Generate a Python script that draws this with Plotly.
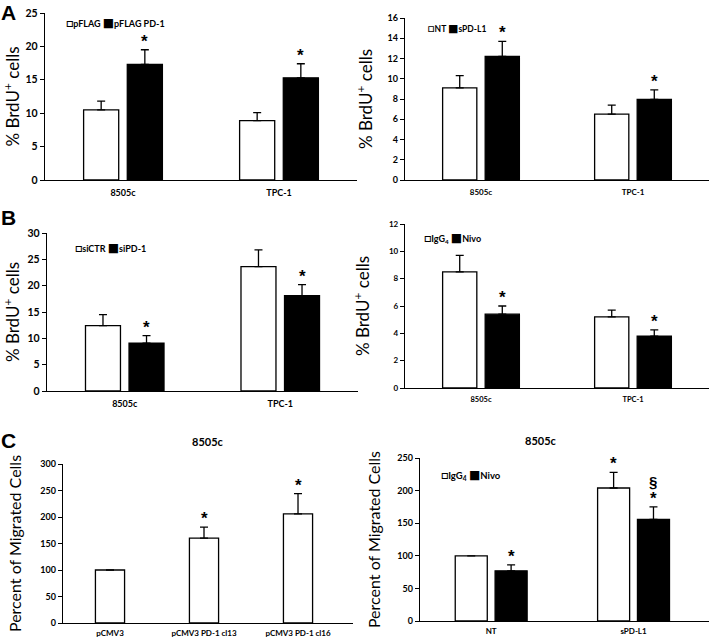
import plotly.graph_objects as go

# ---------------- data ----------------
A_cats = ["8505c", "TPC-1"]
A1_names = ["pFLAG", "pFLAG PD-1"]
A1_pflag = [10.5, 8.9]
A1_pflag_err = [1.3, 1.2]
A1_pd1 = [17.3, 15.3]
A1_pd1_err = [2.2, 2.1]
A1_pflag_sig = ["", ""]
A1_pd1_sig = ["*", "*"]

A2_names = ["NT", "sPD-L1"]
A2_nt = [9.1, 6.5]
A2_nt_err = [1.2, 0.9]
A2_spdl1 = [12.2, 7.95]
A2_spdl1_err = [1.5, 0.95]
A2_nt_sig = ["", ""]
A2_spdl1_sig = ["*", "*"]

B1_names = ["siCTR", "siPD-1"]
B1_sictr = [12.4, 23.6]
B1_sictr_err = [2.1, 3.2]
B1_sipd1 = [9.1, 18.1]
B1_sipd1_err = [1.4, 2.1]
B1_sictr_sig = ["", ""]
B1_sipd1_sig = ["*", "*"]

B2_names = ["IgG<sub>4</sub>", "Nivo"]
B2_igg4 = [8.5, 5.2]
B2_igg4_err = [1.2, 0.5]
B2_nivo = [5.4, 3.8]
B2_nivo_err = [0.6, 0.45]
B2_igg4_sig = ["", ""]
B2_nivo_sig = ["*", "*"]

C1_cats = ["pCMV3", "pCMV3 PD-1 cl13", "pCMV3 PD-1 cl16"]
C1_vals = [100, 160, 206]
C1_err = [0, 21, 38]
C1_sig = ["", "*", "*"]

C2_cats = ["NT", "sPD-L1"]
C2_names = ["IgG<sub>4</sub>", "Nivo"]
C2_igg4 = [100, 204]
C2_igg4_err = [0, 24]
C2_nivo = [77, 156]
C2_nivo_err = [9, 19]
C2_igg4_sig = ["", "*"]
C2_nivo_sig = ["*", "*"]
C2_nivo_sig2 = ["", "§"]

BRDU = "% BrdU<sup>+</sup> cells"
MIGR = "Percent of Migrated Cells"
FONT = "Lato"
STARFONT = "Liberation Sans"

W, H = 709, 640
fig = go.Figure()
annotations = []


def px_dom_x(a, b):
    return [a / W, b / W]


def px_dom_y(top, bottom):
    return [1 - bottom / H, 1 - top / H]


OFF = 0.14
BW = 0.225


def add_series(k, vals, errs, sigs, off, bw, color, name, extra_sig=None):
    xs = [i + off for i in range(len(vals))]
    fig.add_trace(go.Bar(
        x=xs, y=vals, width=bw, name=name,
        marker=dict(color=color, line=dict(color="black", width=1.3)),
        error_y=dict(type="data", symmetric=False, array=errs,
                     arrayminus=[0] * len(vals), color="black",
                     thickness=1.3, width=4),
        xaxis=f"x{k}", yaxis=f"y{k}", showlegend=False,
    ))
    xr = f"x{k}" if k > 1 else "x"
    yr = f"y{k}" if k > 1 else "y"
    for x, v, e, s in zip(xs, vals, errs, sigs):
        if s:
            annotations.append(dict(x=x, y=v + e, xref=xr, yref=yr, text=s,
                                    showarrow=False, yanchor="bottom", yshift=-3,
                                    font=dict(family=STARFONT, size=17, color="black", weight="bold")))
    if extra_sig:
        for x, v, e, s in zip(xs, vals, errs, extra_sig):
            if s:
                annotations.append(dict(x=x, y=v + e, xref=xr, yref=yr, text=s,
                                        showarrow=False, yanchor="bottom", yshift=15,
                                        font=dict(family=STARFONT, size=15, color="black", weight="bold")))


def style_axes(k, cats, xdom, ydom, xrange_, yrange, dtick, ytitle, tick_fs, cat_fs,
               title_fs, standoff, cat_standoff=4):
    sfx = str(k) if k > 1 else ""
    fig.layout[f"xaxis{sfx}"] = dict(
        domain=xdom, range=xrange_, tickvals=list(range(len(cats))), ticktext=cats,
        showline=True, linecolor="black", linewidth=1.4, ticks="", showgrid=False,
        zeroline=False, anchor=f"y{sfx}", ticklabelstandoff=cat_standoff, automargin=False,
        tickfont=dict(family=FONT, size=cat_fs, color="black", weight="bold"),
    )
    fig.layout[f"yaxis{sfx}"] = dict(
        domain=ydom, range=yrange, dtick=dtick, showline=True, linecolor="black",
        linewidth=1.4, ticks="outside", ticklen=4, tickwidth=1.2, tickcolor="black",
        showgrid=False, zeroline=False, anchor=f"x{sfx}", automargin=False,
        tickfont=dict(family=FONT, size=tick_fs, color="black", weight="bold"),
        title=dict(text=ytitle, standoff=standoff,
                   font=dict(family=FONT, size=title_fs, color="black")),
    )


def legend_text(k, names, xpx, ypx, fs, sq):
    box_w = f'<span style="font-size:{sq}px">□</span>'
    box_b = f'<span style="font-size:{sq}px">■</span>'
    annotations.append(dict(
        x=xpx / W, y=1 - ypx / H, xref="paper", yref="paper",
        text=f"{box_w}{names[0]} {box_b}{names[1]}", showarrow=False,
        xanchor="left", yanchor="middle",
        font=dict(family=f"{FONT}, DejaVu Sans", size=fs, color="black", weight="bold")))


# Panel A left
add_series(1, A1_pflag, A1_pflag_err, A1_pflag_sig, -OFF, BW, "white", A1_names[0])
add_series(1, A1_pd1, A1_pd1_err, A1_pd1_sig, OFF, BW, "black", A1_names[1])
style_axes(1, A_cats, px_dom_x(45, 357), px_dom_y(13, 180), [-0.5, 1.5], [0, 25], 5,
           BRDU, 10.5, 9, 17, 12)
legend_text(1, A1_names, 64, 23, 9, 12)

# Panel A right
add_series(2, A2_nt, A2_nt_err, A2_nt_sig, -OFF, BW, "white", A2_names[0])
add_series(2, A2_spdl1, A2_spdl1_err, A2_spdl1_sig, OFF, BW, "black", A2_names[1])
style_axes(2, A_cats, px_dom_x(405, 709), px_dom_y(18, 180), [-0.5, 1.5], [0, 16], 2,
           BRDU, 9, 8, 17, 10)
legend_text(2, A2_names, 426, 28, 8.5, 11)

# Panel B left
add_series(3, B1_sictr, B1_sictr_err, B1_sictr_sig, -OFF, BW, "white", B1_names[0])
add_series(3, B1_sipd1, B1_sipd1_err, B1_sipd1_sig, OFF, BW, "black", B1_names[1])
style_axes(3, A_cats, px_dom_x(47, 358), px_dom_y(233, 391), [-0.5, 1.5], [0, 30], 5,
           BRDU, 10.5, 9, 17, 12)
legend_text(3, B1_names, 73, 248, 9, 12)

# Panel B right
add_series(4, B2_igg4, B2_igg4_err, B2_igg4_sig, -OFF, BW, "white", B2_names[0])
add_series(4, B2_nivo, B2_nivo_err, B2_nivo_sig, OFF, BW, "black", B2_names[1])
style_axes(4, A_cats, px_dom_x(405, 709), px_dom_y(224, 388), [-0.5, 1.5], [0, 12], 2,
           BRDU, 8, 7.5, 17, 14)
legend_text(4, B2_names, 422, 238, 9, 12)

# Panel C left
add_series(5, C1_vals, C1_err, C1_sig, 0, 0.31, "white", "8505c")
style_axes(5, C1_cats, px_dom_x(63, 353), px_dom_y(464, 623), [-0.5, 2.585], [0, 300], 50,
           MIGR, 9, 8, 16, 14, cat_standoff=2)

# Panel C right
add_series(6, C2_igg4, C2_igg4_err, C2_igg4_sig, -OFF, BW, "white", C2_names[0])
add_series(6, C2_nivo, C2_nivo_err, C2_nivo_sig, OFF, BW, "black", C2_names[1],
           extra_sig=C2_nivo_sig2)
style_axes(6, C2_cats, px_dom_x(420, 709), px_dom_y(458, 621), [-0.5, 1.53], [0, 250], 50,
           MIGR, 9, 8, 16, 12, cat_standoff=2)
legend_text(6, C2_names, 439, 474, 9.5, 12)

# subplot titles for C
annotations.append(dict(x=0.5, y=1.14, xref="x5 domain", yref="y5 domain", text="8505c",
                        showarrow=False, yanchor="middle",
                        font=dict(family=FONT, size=11, color="black", weight="bold")))
annotations.append(dict(x=0.42, y=1.11, xref="x6 domain", yref="y6 domain", text="8505c",
                        showarrow=False, yanchor="middle",
                        font=dict(family=FONT, size=11, color="black", weight="bold")))

# panel letters
for letter, ypx in [("A", 12), ("B", 217), ("C", 440)]:
    annotations.append(dict(x=8 / W, y=1 - ypx / H, xref="paper", yref="paper", text=letter,
                            showarrow=False, xanchor="center", yanchor="middle",
                            font=dict(family="Liberation Sans", size=21, color="black", weight="bold")))

fig.update_layout(
    width=W, height=H, margin=dict(l=0, r=0, t=0, b=0),
    paper_bgcolor="white", plot_bgcolor="white",
    barmode="overlay", showlegend=False,
    annotations=annotations,
)

fig.write_html("out.html", config={"displayModeBar": False},
               post_script="document.body.style.margin='0';document.body.style.padding='0';")
